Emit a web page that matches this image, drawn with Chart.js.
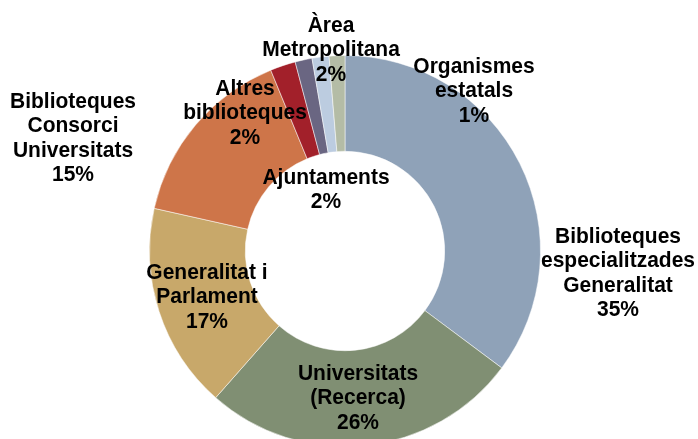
<!DOCTYPE html>
<html>
<head>
<meta charset="utf-8">
<script src="https://cdn.jsdelivr.net/npm/chart.js@4/dist/chart.umd.min.js"></script>
<style>
html,body{margin:0;padding:0;background:#fff;overflow:hidden;}
#wrap{position:relative;width:698px;height:460px;}
</style>
</head>
<body>
<div id="wrap"><canvas id="c"></canvas></div>
<script>
// Data
const categories = [
  "Biblioteques especialitzades Generalitat",
  "Universitats (Recerca)",
  "Generalitat i Parlament",
  "Biblioteques Consorci Universitats",
  "Altres biblioteques",
  "Ajuntaments",
  "Àrea Metropolitana",
  "Organismes estatals"
];
const values = [35.2, 26.3, 17.0, 15.3, 2.1, 1.4, 1.4, 1.3];
const pctLabels = ["35%", "26%", "17%", "15%", "2%", "2%", "2%", "1%"];
const labelLines = [
  ["Biblioteques", "especialitzades", "Generalitat"],
  ["Universitats", "(Recerca)"],
  ["Generalitat i", "Parlament"],
  ["Biblioteques", "Consorci", "Universitats"],
  ["Altres", "biblioteques"],
  ["Ajuntaments"],
  ["Àrea", "Metropolitana"],
  ["Organismes", "estatals"]
];
const colors = ["#8FA2B8", "#808F73", "#C8A86A", "#CE7549", "#A2202A", "#6A6682", "#BCCCE0", "#B4BCA6"];

// Layout for label text (centre x, y of first line)
const labelPos = [
  [618, 237], [358, 374], [207, 273], [73, 102],
  [245, 89], [326, 178], [331, 26], [474, 67]
];
const lineStep = 24.2;
const vStretch = 1.08;

const labelPlugin = {
  id: 'labels',
  afterDatasetsDraw(chart) {
    const ctx = chart.ctx;
    ctx.save();
    ctx.font = "bold 21px 'Liberation Sans', Arial, sans-serif";
    ctx.fillStyle = "#000";
    ctx.textAlign = "center";
    ctx.textBaseline = "middle";
    labelLines.forEach((lines, i) => {
      const all = lines.concat([pctLabels[i]]);
      const [x, y] = labelPos[i];
      all.forEach((t, j) => {
        ctx.save();
        ctx.translate(x, y + j * lineStep);
        ctx.scale(1, vStretch);
        ctx.fillText(t, 0, 0);
        ctx.restore();
      });
    });
    ctx.restore();
  }
};

new Chart(document.getElementById('c'), {
  type: 'doughnut',
  data: {
    labels: categories,
    datasets: [{
      data: values,
      backgroundColor: colors,
      borderColor: 'rgba(255,255,255,0.5)',
      borderWidth: 1
    }]
  },
  options: {
    responsive: true,
    maintainAspectRatio: false,
    animation: false,
    cutout: '51%',
    layout: { padding: { top: 55, bottom: 13, left: 0, right: 8 } },
    plugins: { legend: { display: false }, tooltip: { enabled: false } }
  },
  plugins: [labelPlugin]
});
</script>
</body>
</html>
